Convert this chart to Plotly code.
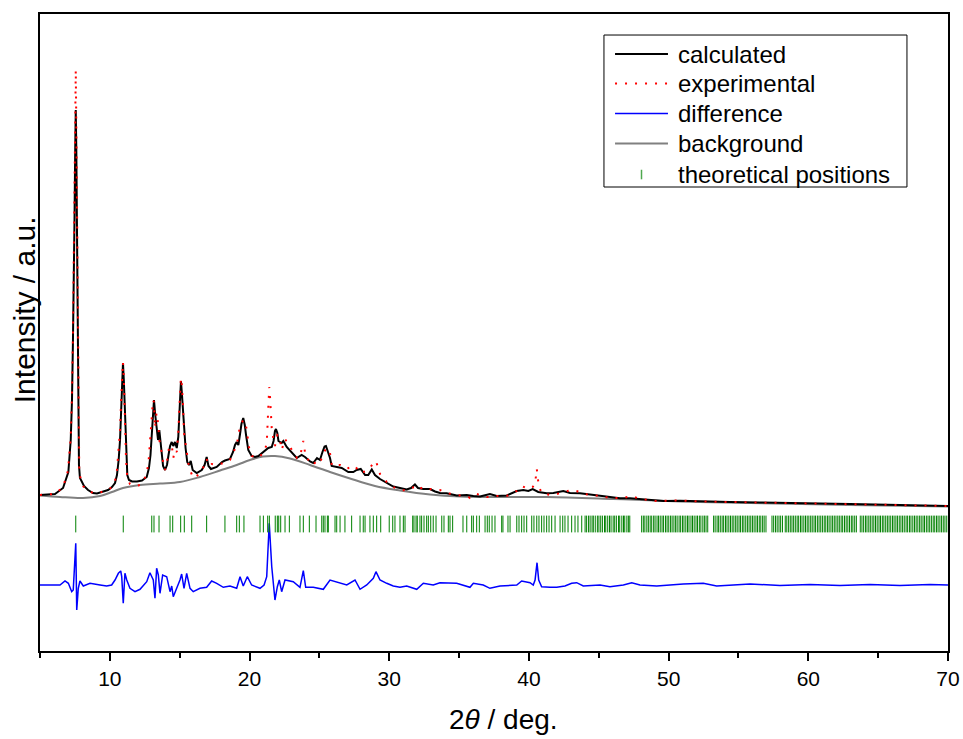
import plotly.graph_objects as go

# ---------------- data ----------------
# two-theta (deg) / intensity (a.u.)
calc_x = [5.00, 6.07, 6.65, 7.03, 7.20, 7.29, 7.36, 7.41, 7.47, 7.52, 7.56, 7.60, 7.65, 7.70, 7.74, 7.79,
          7.86, 7.99, 8.15, 8.44, 8.79, 9.08, 9.51, 9.87, 10.15, 10.37, 10.51, 10.63, 10.73, 10.81, 10.88,
          10.94, 11.00, 11.07, 11.16, 11.25, 11.37, 11.59, 11.94, 12.30, 12.64, 12.80, 12.91, 13.02, 13.09,
          13.16, 13.25, 13.35, 13.45, 13.54, 13.61, 13.70, 13.81, 13.95, 14.09, 14.20, 14.31, 14.43, 14.54,
          14.66, 14.79, 14.90, 14.99, 15.04, 15.09, 15.15, 15.22, 15.31, 15.42, 15.54, 15.67, 15.79, 15.93,
          16.22, 16.58, 16.78, 16.93, 17.06, 17.24, 17.65, 18.03, 18.24, 18.60, 18.82, 18.96, 19.08, 19.20,
          19.32, 19.42, 19.55, 19.66, 19.75, 19.91, 20.15, 20.39, 20.63, 20.99, 21.34, 21.59, 21.72, 21.82,
          21.89, 21.99, 22.07, 22.30, 22.42, 22.66, 23.02, 23.38, 23.73, 23.97, 24.33, 24.56, 24.83, 25.04,
          25.22, 25.37, 25.47, 25.64, 25.76, 25.88, 26.24, 26.60, 27.07, 27.43, 27.67, 27.96, 28.27, 28.50,
          28.75, 28.98, 29.34, 29.82, 30.29, 30.77, 31.25, 31.56, 31.84, 32.06, 32.44, 32.92, 33.28, 33.63,
          34.11, 34.83, 35.55, 36.02, 36.50, 37.21, 37.69, 38.41, 39.13, 39.60, 39.96, 40.27, 40.67, 41.27,
          41.75, 42.46, 42.94, 43.66, 44.61, 45.57, 46.52, 47.24, 48.43, 49.62, 50.82, 52.25, 54.39, 56.54,
          59.41, 62.98, 66.56, 70.00]
calc_y = [156, 157, 163, 179, 211, 251, 311, 351, 431, 501, 541, 501, 401, 321, 231, 186,
          173, 169, 165, 161, 158, 157.5, 159, 161, 164, 168, 176, 191, 211, 241, 271,
          288, 271, 241, 201, 176, 171, 169.5, 169.5, 170.5, 174, 183, 196, 221, 241,
          251, 236, 221, 211, 221, 211, 196, 185, 181, 186, 196, 205, 209, 205,
          209, 203, 214, 241, 261, 270, 259, 246, 221, 203, 189, 186, 190, 181,
          178, 181, 186, 194, 185, 182, 184, 189, 190.5, 192, 199, 206, 209, 206,
          217, 227, 233, 226, 216, 201, 195, 194, 195, 199, 203, 204, 210, 220,
          222, 218, 210, 208, 210, 204, 198, 193, 196, 194, 189.5, 188, 193, 191,
          199, 204.5, 205, 199, 193, 185, 184, 183, 179, 179, 181, 182, 176, 176,
          181.5, 176, 172, 168, 164.5, 163, 161.5, 163, 166.5, 163, 162, 162, 159.5, 158,
          157.7, 155.5, 156, 155, 154.5, 157, 155, 155.5, 160, 161, 160, 162, 159, 157.7,
          158, 160, 158, 157.7, 156, 153.7, 152.7, 152.7, 151, 150, 150.3, 149.5, 149, 148.5,
          148, 147, 146, 145]

exp_x = [5.00, 6.07, 6.65, 7.00, 7.20, 7.29, 7.36, 7.43, 7.51, 7.56, 7.61, 7.66, 7.71, 7.76, 7.81, 7.86,
         8.10, 8.44, 8.79, 9.08, 9.51, 9.87, 10.15, 10.37, 10.51, 10.62, 10.73, 10.81, 10.88, 10.94, 11.00,
         11.05, 11.08, 11.16, 11.25, 11.44, 11.80, 12.16, 12.44, 12.64, 12.77, 12.87, 12.98, 13.09, 13.16,
         13.23, 13.34, 13.47, 13.54, 13.66, 13.81, 13.95, 14.09, 14.23, 14.34, 14.45, 14.54, 14.66, 14.79,
         14.90, 14.99, 15.04, 15.09, 15.15, 15.22, 15.31, 15.42, 15.50, 15.62, 15.74, 15.97, 16.22, 16.45,
         16.67, 16.93, 17.10, 17.29, 17.65, 18.12, 18.60, 19.08, 19.32, 19.55, 19.68, 19.84, 19.91, 20.15,
         20.63, 21.04, 21.23, 21.32, 21.38, 21.41, 21.46, 21.59, 21.72, 21.82, 21.99, 22.13, 22.30, 22.54,
         22.90, 23.13, 23.40, 23.61, 23.76, 23.85, 24.02, 24.33, 24.56, 24.83, 25.04, 25.28, 25.47, 25.76,
         25.90, 26.24, 26.48, 26.96, 27.31, 27.55, 27.91, 28.12, 28.39, 28.62, 28.86, 29.05, 29.34, 29.82,
         30.29, 30.77, 31.25, 31.56, 31.84, 32.06, 32.44, 32.92, 33.15, 33.63, 34.11, 34.83, 35.55, 35.78,
         36.26, 36.98, 37.21, 37.69, 38.41, 39.13, 39.48, 39.96, 40.27, 40.44, 40.51, 40.56, 40.61, 40.70,
         40.91, 41.51, 41.99, 42.58, 43.06, 43.42, 43.89, 45.09, 45.80, 46.76, 47.36, 47.95, 49.15, 50.82,
         52.25, 54.39, 56.54, 59.41, 62.98, 66.56, 70.00]
exp_y = [156, 157, 164, 180, 213, 256, 316, 401, 501, 581, 511, 401, 301, 211, 181, 175,
         164.5, 161, 158, 157.5, 159, 161, 164, 170, 181, 199, 221, 251, 279, 289, 273,
         251, 221, 191, 173, 167, 165, 166, 171, 178, 189, 206, 233, 251, 249,
         223, 238, 226, 211, 203, 189, 181, 189, 203, 201, 204, 193, 201, 199,
         218, 248, 266, 273, 266, 251, 218, 206, 201, 188, 181, 173, 175, 178,
         183, 192, 185, 187, 186, 188, 191, 206, 225, 231, 229, 219, 206, 195,
         193, 199, 207, 241, 261, 264, 256, 222, 211, 205, 216, 215, 201, 212,
         204, 199, 193, 194, 205, 210, 194, 189, 186, 191, 189, 196, 203, 198,
         185, 186, 186, 182, 185, 185, 178, 179, 180, 183, 188, 190, 177, 169,
         164, 161, 160.5, 163, 164, 161, 164, 162, 161, 161, 158, 156, 155, 153,
         157, 154, 154, 155, 155, 160, 165, 162, 164, 167, 177, 182, 177, 165,
         158, 156, 157, 159, 161, 160, 157, 155, 153, 153, 155, 152, 150, 150.5,
         149.5, 149, 148.5, 148, 147, 146, 145]

diff_x = [5.00, 6.43, 6.79, 7.03, 7.27, 7.38, 7.56, 7.63, 7.74, 7.86, 8.10, 8.58, 9.30, 9.77, 10.13,
          10.37, 10.61, 10.78, 10.85, 10.96, 11.08, 11.21, 11.44, 11.80, 12.16, 12.64, 12.87, 13.11, 13.23,
          13.35, 13.47, 13.59, 13.78, 14.07, 14.31, 14.43, 14.54, 14.79, 15.02, 15.14, 15.31, 15.50, 15.74,
          15.97, 16.45, 16.93, 17.29, 17.65, 18.12, 18.60, 19.08, 19.32, 19.55, 19.84, 20.15, 20.75, 21.04,
          21.23, 21.41, 21.59, 21.82, 21.99, 22.13, 22.30, 22.54, 23.13, 23.61, 23.85, 24.02, 24.56, 25.28,
          25.76, 26.48, 26.96, 27.55, 27.91, 28.39, 28.86, 29.05, 29.34, 29.82, 30.29, 30.77, 31.25, 31.97,
          32.44, 33.15, 33.63, 34.83, 35.78, 36.02, 36.73, 37.21, 37.93, 39.13, 39.48, 40.08, 40.31, 40.44,
          40.58, 40.70, 40.91, 41.51, 41.99, 42.58, 43.06, 43.42, 43.89, 45.09, 45.80, 46.76, 47.36, 47.95,
          49.15, 50.10, 51.05, 52.48, 53.44, 54.63, 55.83, 57.97, 60.12, 62.27, 64.42, 66.56, 68.71, 70.00]
diff_y = [66, 66, 70, 67.7, 59.3, 61, 107.7, 41, 62.7, 70, 65, 67.7, 66, 65, 66,
          71, 77.7, 80, 74.3, 47.7, 77.7, 71, 62.7, 59.3, 61.7, 69.3, 78.3, 71, 52.7,
          82.7, 76, 57.7, 76, 74.3, 59.3, 65, 54.3, 62.7, 71, 77, 62.7, 77.7, 62.7,
          59.3, 62.7, 63.7, 70, 67.7, 63.7, 65, 62.7, 74.3, 65, 74.3, 66, 62.7, 66,
          74.3, 127.7, 84.3, 51, 64.3, 71, 59.3, 71, 69.3, 63.7, 80.3, 63.7, 63.7, 61.7,
          71, 68.3, 66, 71, 61.7, 66, 72.7, 79.3, 71, 67.7, 65, 63.7, 65, 61.7,
          67.7, 66, 68.3, 67.7, 63.7, 67.7, 66, 62.7, 65, 66, 70, 68.3, 66, 71,
          88.3, 71, 64.3, 63.7, 63.7, 65, 67.7, 68.3, 65, 66, 64.3, 66, 68.3, 66,
          65, 66, 67, 67.7, 65, 66, 67, 65.5, 66.5, 65.5, 66.5, 65.5, 66.5, 66]

bg_x = [5.00, 6.43, 8.08, 9.30, 10.15, 10.94, 12.16, 13.59, 15.02, 16.45, 17.89, 19.08, 20.03, 20.96,
        21.82, 22.90, 24.33, 25.76, 27.19, 28.98, 30.77, 32.92, 35.07, 37.93, 41.29, 46.02, 50.82, 55.83,
        62.98, 70.00]
bg_y = [155.5, 154, 153, 155, 159, 163, 166, 167.5, 169, 174, 180.5, 186, 191, 194.5,
        195, 192.5, 186, 179, 172.5, 165, 160.5, 156.5, 154.5, 154, 154, 152, 149.5, 148,
        146, 144.5]

tick_pos = [7.56, 10.96, 13.00, 13.16, 13.52, 14.31, 14.50, 15.07, 15.33, 15.86, 16.93, 18.24, 19.08,
            19.27, 19.60, 20.75, 20.99, 21.30, 21.42, 21.84, 21.99, 22.09, 22.23, 22.54, 22.85, 23.61,
            23.85, 24.28, 24.76, 25.17, 25.28, 25.40, 25.57, 25.64, 26.12, 26.24, 26.48, 26.83, 27.31,
            27.91, 28.14, 28.27, 28.62, 28.86, 29.10, 29.39, 30.00, 30.25, 30.41, 30.77, 31.01, 31.13,
            31.68, 31.77, 31.92, 32.01, 32.20, 32.32, 32.49, 32.68, 32.80, 32.97, 33.15, 33.35, 33.76,
            33.92, 34.23, 34.35, 34.54, 35.28, 35.55, 35.90, 36.02, 36.26, 36.45, 36.86, 37.02, 37.16,
            37.36, 37.57, 38.05, 38.14, 38.50, 38.65, 39.13, 39.29, 39.48, 39.65, 39.84, 40.20, 40.36,
            40.56, 40.72, 40.91, 41.08, 41.27, 41.44, 41.63, 41.87, 42.23, 42.42, 42.58, 42.80, 43.06,
            43.30, 43.51, 43.78,
            44.02, 44.13, 44.27, 44.38, 44.52, 44.61, 44.75, 44.90, 45.01, 45.14, 45.26, 45.41, 45.50,
            45.64, 45.77, 45.88, 46.03, 46.14, 46.26, 46.41, 46.50, 46.65, 46.77, 46.86, 47.01, 47.12,
            47.22,
            48.07, 48.19, 48.30, 48.44, 48.55, 48.68, 48.79, 48.93, 49.03, 49.17, 49.28, 49.40, 49.53,
            49.64, 49.78, 49.89, 50.01, 50.14, 50.25, 50.38, 50.50, 50.61, 50.75, 50.86, 50.99, 51.10,
            51.23, 51.35, 51.46, 51.60, 51.71, 51.83, 51.96, 52.07, 52.20, 52.31, 52.45, 52.56, 52.68,
            52.80,
            53.22, 53.33, 53.47, 53.58, 53.70, 53.83, 53.94, 54.07, 54.18, 54.31, 54.43, 54.55, 54.67,
            54.80, 54.91, 55.04, 55.15, 55.28, 55.39, 55.52, 55.64, 55.76, 55.88, 56.00, 56.12, 56.25,
            56.36, 56.49, 56.60, 56.73, 56.84, 56.97,
            57.40, 57.52, 57.65, 57.77, 57.90, 58.02, 58.15,
            58.35, 58.46, 58.59, 58.71, 58.83, 58.95, 59.07, 59.20, 59.31, 59.44, 59.55, 59.68, 59.80,
            59.92, 60.04, 60.17, 60.28, 60.41, 60.52, 60.65, 60.77, 60.89, 61.01, 61.14, 61.25, 61.38,
            61.49, 61.62, 61.74, 61.86, 61.98, 62.11, 62.22, 62.35, 62.46, 62.59, 62.71, 62.83, 62.95,
            63.08, 63.19, 63.32, 63.44,
            63.72, 63.84, 63.96, 64.09, 64.20, 64.33, 64.44, 64.57, 64.69, 64.81, 64.93, 65.06, 65.17,
            65.30, 65.41, 65.54, 65.66, 65.78, 65.90, 66.03, 66.14, 66.27, 66.38, 66.51, 66.63, 66.75,
            66.87, 67.00, 67.11, 67.24, 67.35, 67.48, 67.60, 67.72, 67.84, 67.97, 68.08, 68.21, 68.32,
            68.45, 68.57, 68.69, 68.81, 68.94, 69.05, 69.18, 69.29, 69.42, 69.54, 69.66, 69.78, 69.91]
tick_level = 127  # vertical level of the reflection-marker row (a.u.)

x_ticks = [10, 20, 30, 40, 50, 60, 70]
legend_labels = ["calculated", "experimental", "difference", "background", "theoretical positions"]
x_title = "2<i>θ</i> / deg."
y_title = "Intensity / a.u."

# ---------------- styles ----------------
FONT = "Arial, Liberation Sans, Arimo, sans-serif"
styles = {
    "calculated": dict(color="black", width=2),
    "experimental": dict(color="red", width=2, dash="2px,8px"),
    "difference": dict(color="blue", width=1.5),
    "background": dict(color="#808080", width=2),
    "theoretical positions": dict(color="green", width=1),
}

fig = go.Figure()
fig.add_trace(go.Scatter(x=bg_x, y=bg_y, mode="lines", name="background",
                         line=dict(**styles["background"], shape="spline")))
fig.add_trace(go.Scatter(x=calc_x, y=calc_y, mode="lines", name="calculated",
                         line=styles["calculated"]))
fig.add_trace(go.Scatter(x=exp_x, y=exp_y, mode="lines", name="experimental",
                         line=styles["experimental"]))
fig.add_trace(go.Scatter(x=diff_x, y=diff_y, mode="lines", name="difference",
                         line=styles["difference"]))
fig.add_trace(go.Scatter(x=tick_pos, y=[tick_level] * len(tick_pos), mode="markers",
                         name="theoretical positions",
                         marker=dict(symbol="line-ns", size=12, line=styles["theoretical positions"])))

# ---------------- legend box drawn in paper coordinates ----------------
L_X0, L_X1, L_Y0, L_Y1 = 0.6211, 0.9548, 0.7284, 0.9670
SYM_X0, SYM_X1, TXT_X = 0.6333, 0.6916, 0.7004
ROW_Y = [0.9372, 0.8909, 0.8438, 0.7967, 0.7480]
shapes = [dict(type="rect", xref="paper", yref="paper", x0=L_X0, x1=L_X1, y0=L_Y0, y1=L_Y1,
               line=dict(color="black", width=1), fillcolor="white", layer="above")]
annotations = []
for lab, yy in zip(legend_labels, ROW_Y):
    st = styles[lab]
    if lab == "theoretical positions":
        xc = (SYM_X0 + SYM_X1) / 2
        shapes.append(dict(type="line", xref="paper", yref="paper", x0=xc, x1=xc,
                           y0=yy - 0.0075, y1=yy + 0.0075,
                           line=dict(color="#4fa84f", width=1.5), layer="above"))
    else:
        shapes.append(dict(type="line", xref="paper", yref="paper", x0=SYM_X0, x1=SYM_X1,
                           y0=yy, y1=yy, line=st, layer="above"))
    annotations.append(dict(text=lab, xref="paper", yref="paper", x=TXT_X, y=yy,
                            xanchor="left", yanchor="middle", showarrow=False,
                            font=dict(size=24, family=FONT, color="black")))

annotations.append(dict(text=y_title, textangle=-90, xref="paper", yref="paper",
                        x=-0.0176, y=0.535, xanchor="center", yanchor="middle", showarrow=False,
                        font=dict(size=30, family=FONT, color="black")))
annotations.append(dict(text=x_title, xref="paper", yref="paper",
                        x=0.51, y=-0.1083, xanchor="center", yanchor="middle", showarrow=False,
                        font=dict(size=28, family=FONT, color="black")))

fig.update_layout(
    width=963, height=739,
    margin=dict(l=40, r=15, t=14, b=88),
    paper_bgcolor="white", plot_bgcolor="white",
    font=dict(family=FONT, color="black"),
    showlegend=False,
    xaxis=dict(range=[5, 70], tickvals=x_ticks, ticks="outside", ticklen=8, tickwidth=1.5,
               tickcolor="black", showline=True, linecolor="black", linewidth=2, mirror=True,
               showgrid=False, zeroline=False, tickfont=dict(size=21, family=FONT),
               minor=dict(dtick=5, tick0=0, ticks="outside", ticklen=5, tickwidth=1.5,
                          tickcolor="black", showgrid=False),
               automargin=False),
    yaxis=dict(range=[0, 637], showticklabels=False, ticks="", showline=True,
               linecolor="black", linewidth=2, mirror=True, showgrid=False, zeroline=False,
               automargin=False),
    shapes=shapes,
    annotations=annotations,
)

fig.write_html("out.html")
